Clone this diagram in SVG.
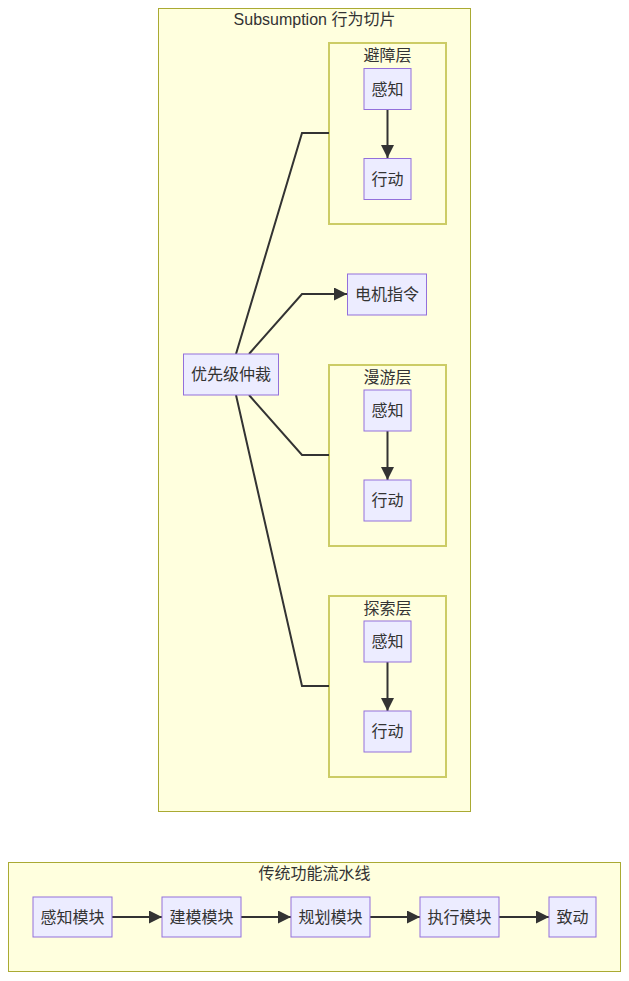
<svg xmlns="http://www.w3.org/2000/svg" width="629" height="981" viewBox="0 0 629 981">
<style>
.cl{fill:#ffffde;stroke:#aaaa33;stroke-width:1}
.cl2{fill:#ffffde;stroke:#cccc66;stroke-width:2}
.nd{fill:#ececff;stroke:#9370db;stroke-width:1}
text{font-family:"Liberation Sans","Noto Sans CJK SC",sans-serif;font-size:16px;fill:#333;text-anchor:middle;dominant-baseline:central}
.ed{fill:none;stroke:#333;stroke-width:2}
</style>
<defs>
<marker id="ah" viewBox="0 0 10 10" refX="10" refY="5" markerWidth="13" markerHeight="13" markerUnits="userSpaceOnUse" orient="auto">
<path d="M0,0L10,5L0,10z" fill="#333"/>
</marker>
</defs>
<rect width="629" height="981" fill="#fff"/>
<g id="cluster-subsumption">
<rect class="cl" x="158.5" y="8.5" width="312" height="803"/>
<text x="314.5" y="19">Subsumption 行为切片</text>
</g>
<g id="cluster-avoid">
<rect class="cl2" x="329" y="43" width="117" height="181"/>
<text x="387.5" y="55">避障层</text>
</g>
<g id="cluster-wander">
<rect class="cl2" x="329" y="365" width="117" height="181"/>
<text x="387.5" y="377">漫游层</text>
</g>
<g id="cluster-explore">
<rect class="cl2" x="329" y="596" width="117" height="181"/>
<text x="387.5" y="608">探索层</text>
</g>
<g id="cluster-pipeline">
<rect class="cl" x="8.5" y="862.5" width="612" height="109"/>
<text x="314.5" y="873">传统功能流水线</text>
</g>
<g id="edges">
<path class="ed" d="M387.5,109V158" marker-end="url(#ah)"/>
<path class="ed" d="M387.5,431V480" marker-end="url(#ah)"/>
<path class="ed" d="M387.5,662V711" marker-end="url(#ah)"/>
<path class="ed" d="M236,354L302,133H329"/>
<path class="ed" d="M249,354L302,294H347" marker-end="url(#ah)"/>
<path class="ed" d="M249,395L302,455H329"/>
<path class="ed" d="M236,395L302,686H329"/>
<path class="ed" d="M112,917H162" marker-end="url(#ah)"/>
<path class="ed" d="M241,917H291" marker-end="url(#ah)"/>
<path class="ed" d="M370,917H420" marker-end="url(#ah)"/>
<path class="ed" d="M499,917H549" marker-end="url(#ah)"/>
</g>
<g id="n-avoid-sense"><rect class="nd" x="364" y="68.5" width="47" height="41"/><text x="387.5" y="89">感知</text></g>
<g id="n-avoid-act"><rect class="nd" x="364" y="158.5" width="47" height="41"/><text x="387.5" y="179">行动</text></g>
<g id="n-wander-sense"><rect class="nd" x="364" y="390" width="47" height="41"/><text x="387.5" y="410.5">感知</text></g>
<g id="n-wander-act"><rect class="nd" x="364" y="480" width="47" height="41"/><text x="387.5" y="500.5">行动</text></g>
<g id="n-explore-sense"><rect class="nd" x="364" y="621" width="47" height="41"/><text x="387.5" y="641.5">感知</text></g>
<g id="n-explore-act"><rect class="nd" x="364" y="711" width="47" height="41"/><text x="387.5" y="731.5">行动</text></g>
<g id="n-motor"><rect class="nd" x="347.5" y="274" width="79" height="41"/><text x="387" y="294.5">电机指令</text></g>
<g id="n-arbiter"><rect class="nd" x="183.5" y="354" width="95" height="41"/><text x="231" y="374.5">优先级仲裁</text></g>
<g id="n-p-sense"><rect class="nd" x="33" y="897" width="79" height="40"/><text x="72.5" y="917">感知模块</text></g>
<g id="n-p-model"><rect class="nd" x="162" y="897" width="79" height="40"/><text x="201.5" y="917">建模模块</text></g>
<g id="n-p-plan"><rect class="nd" x="291" y="897" width="79" height="40"/><text x="330.5" y="917">规划模块</text></g>
<g id="n-p-exec"><rect class="nd" x="420" y="897" width="79" height="40"/><text x="459.5" y="917">执行模块</text></g>
<g id="n-p-act"><rect class="nd" x="549" y="897" width="47" height="40"/><text x="572.5" y="917">致动</text></g>
</svg>
